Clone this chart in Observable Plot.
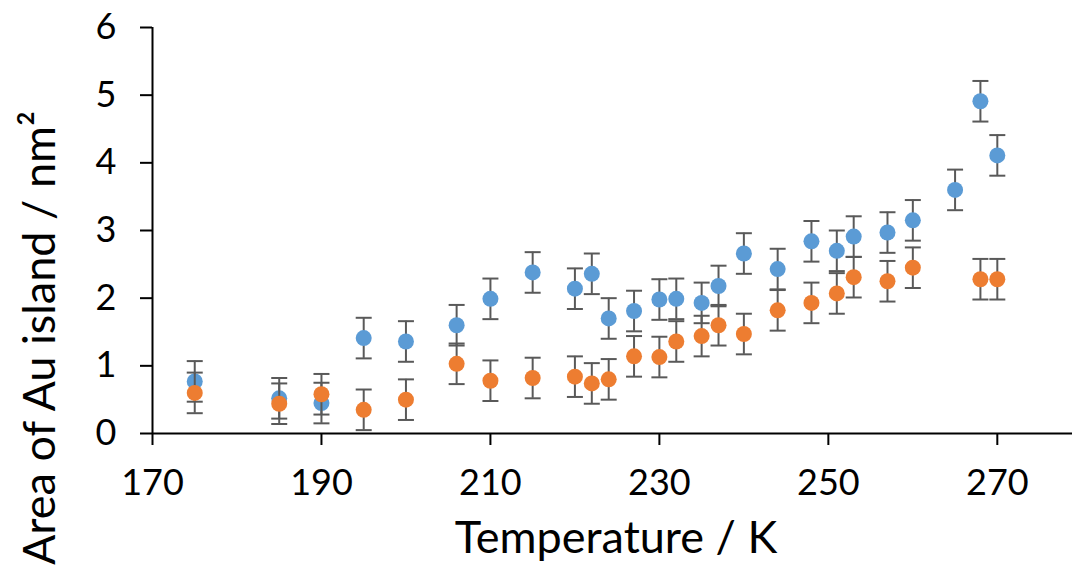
<!DOCTYPE html>
<html>
<head>
<meta charset="utf-8">
<script src="https://cdn.jsdelivr.net/npm/d3@7"></script>
<script src="https://cdn.jsdelivr.net/npm/@observablehq/plot@0.6"></script>
<style>
  body { margin: 0; background: #fff; }
  #chart svg { display: block; }
</style>
</head>
<body>
<div id="chart"></div>
<script>
// Data
const temperatures = [175, 185, 190, 195, 200, 206, 210, 215, 220, 222, 224, 227, 230, 232, 235, 237, 240, 244, 248, 251, 253, 257, 260, 265, 268, 270];
const seriesBlue   = [0.77, 0.52, 0.45, 1.41, 1.36, 1.60, 1.99, 2.38, 2.14, 2.36, 1.70, 1.81, 1.98, 1.99, 1.93, 2.18, 2.66, 2.43, 2.84, 2.70, 2.91, 2.97, 3.15, 3.60, 4.91, 4.11];
const seriesOrange = [0.60, 0.44, 0.58, 0.35, 0.50, 1.03, 0.78, 0.82, 0.84, 0.74, 0.80, 1.14, 1.13, 1.36, 1.44, 1.60, 1.47, 1.82, 1.93, 2.07, 2.31, 2.25, 2.45, null, 2.28, 2.28];
const errorHalf = 0.3;
const xTicks = [170, 190, 210, 230, 250, 270];
const yTicks = [0, 1, 2, 3, 4, 5, 6];
const xLabel = "Temperature / K";
const yLabel = "Area of Au island / nm²";

const series = [
  {name: "blue", values: seriesBlue, color: "#5B9BD5"},
  {name: "orange", values: seriesOrange, color: "#ED7D31"}
];

const capSymbol = {
  draw(context, size) {
    const w = Math.sqrt(size / Math.PI);
    context.moveTo(-w, 0);
    context.lineTo(w, 0);
  }
};

const marks = [];
for (const s of series) {
  const rows = temperatures.map((t, i) => ({t, v: s.values[i]})).filter(d => d.v != null);
  marks.push(
    Plot.ruleX(rows, {x: "t", y1: d => d.v - errorHalf, y2: d => d.v + errorHalf, stroke: "#595959", strokeWidth: 2}),
    Plot.dot(rows, {x: "t", y: d => d.v + errorHalf, symbol: capSymbol, r: 8, stroke: "#595959", strokeWidth: 2, fill: "none"}),
    Plot.dot(rows, {x: "t", y: d => d.v - errorHalf, symbol: capSymbol, r: 8, stroke: "#595959", strokeWidth: 2, fill: "none"}),
    Plot.dot(rows, {x: "t", y: "v", r: 8, fill: s.color, stroke: "none"})
  );
}

const chart = Plot.plot({
  width: 1072,
  height: 576,
  marginLeft: 152,
  marginRight: 0,
  marginTop: 27,
  marginBottom: 143,
  style: {fontFamily: "Lato, 'Open Sans', sans-serif", fontSize: "36px", color: "#000", background: "#fff"},
  x: {domain: [170, 278.9]},
  y: {domain: [0, 6]},
  marks: [
    ...marks,
    Plot.ruleY([0], {stroke: "#000", strokeWidth: 2}),
    Plot.ruleX([170], {stroke: "#000", strokeWidth: 2}),
    Plot.axisX({ticks: xTicks, tickSize: 12, tickPadding: 24, tickFormat: d => String(d), label: null, strokeWidth: 2}),
    Plot.axisY({ticks: yTicks, tickSize: 12, tickPadding: 24, tickFormat: d => String(d), label: null, strokeWidth: 2})
  ]
});

document.getElementById("chart").appendChild(chart);
const svg = d3.select(chart);
svg.append("text")
  .attr("x", 616).attr("y", 553)
  .attr("text-anchor", "middle")
  .attr("font-size", 45)
  .attr("fill", "#000")
  .text(xLabel);
svg.append("text")
  .attr("transform", "translate(55,338) rotate(-90)")
  .attr("text-anchor", "middle")
  .attr("font-size", 45)
  .attr("fill", "#000")
  .text(yLabel);
</script>
</body>
</html>
